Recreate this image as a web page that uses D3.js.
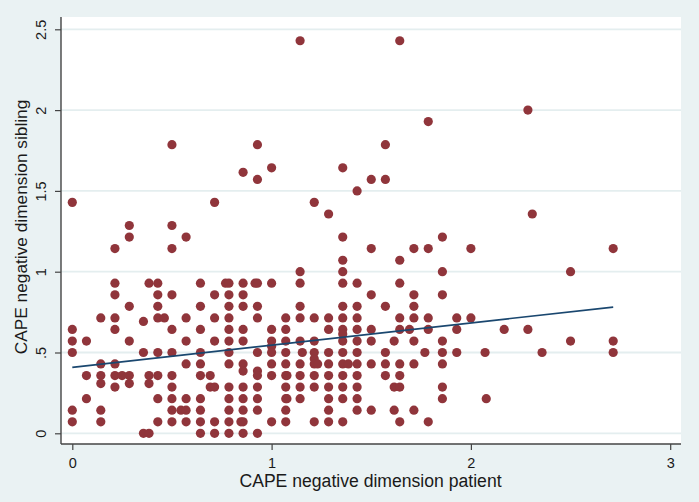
<!DOCTYPE html>
<html>
<head>
<meta charset="utf-8">
<script src="https://cdn.jsdelivr.net/npm/d3@7"></script>
<style>
  html, body { margin: 0; padding: 0; background: #EAF2F3; }
  svg { display: block; }
  text { font-family: "Liberation Sans", Arial, Helvetica, sans-serif; fill: #1a1a1a; }
</style>
</head>
<body>
<svg id="chart" width="699" height="502"></svg>
<script>
// ---- data ----
const patient = [
  0.214,0.286,0.214,0.214,0.385,0.429,0.429,0.286,0.429,0.143,0.214,0.429,0.462,0.357,0,0.214,0,0.071,0.286,0,0.357,0.429,0.143,0.214,0.071,0.143,0.214,0.25,0.286,0.385,0.429,0.143,0.214,0.286,0.385,0.071,0.429,0,0.143,0,0.143,0.429,0.357,0.385,
  0.5,0.571,0.643,0.769,0.786,0.857,0.917,0.929,1,0.5,0.714,0.786,0.857,0.643,0.786,0.857,0.929,0.571,0.714,0.786,0.929,0.5,0.643,0.786,0.857,1,0.571,0.714,0.786,0.857,1,1,1,0.5,0.643,0.786,0.929,0.571,0.643,0.786,0.857,0.857,0.929,0.929,1,1,0.5,0.643,0.692,0.5,0.692,0.714,0.786,0.857,0.929,0.5,0.571,0.643,0.786,0.857,0.929,0.5,0.545,0.571,0.643,0.786,0.857,0.929,0.5,0.571,0.643,0.714,0.786,0.846,0.857,1,0.643,0.714,0.786,0.857,0.929,
  1.357,1.5,1.357,1.143,1.143,1.357,1.357,1.429,1.5,1.571,1.143,1.357,1.429,1.071,1.143,1.214,1.286,1.357,1.429,1.071,1.286,1.357,1.357,1.357,1.429,1.5,1.071,1.143,1.214,1.429,1.5,1.071,1.154,1.214,1.214,1.286,1.357,1.429,1.571,1.071,1.143,1.214,1.231,1.286,1.357,1.385,1.429,1.5,1.571,1.071,1.077,1.143,1.214,1.286,1.357,1.429,1.571,1.071,1.143,1.214,1.286,1.357,1.429,1.071,1.077,1.143,1.286,1.357,1.429,1.071,1.286,1.429,1.5,1.071,1.214,1.286,1.357,
  1.714,1.786,2,1.857,1.643,1.857,1.643,1.714,1.857,1.714,1.643,1.714,1.786,1.929,2,1.643,1.692,1.786,1.929,1.615,1.714,1.857,1.769,1.857,1.929,2.071,1.643,1.714,1.857,1.643,1.615,1.643,1.857,1.857,2.077,1.615,1.714,1.643,1.786,
  2.714,2.5,2.167,2.286,2.5,2.714,2.357,2.714,
  0.5,0.929,0.857,0.929,1,0,0.714,0.286,0.5,
  1.143,1.643,1.786,1.571,1.357,1.5,1.571,1.429,1.214,1.286,
  2.286,2.308
];
const sibling = [
  1.143,1.214,0.929,0.857,0.929,0.929,0.857,0.786,0.786,0.714,0.714,0.714,0.714,0.692,0.643,0.643,0.571,0.571,0.571,0.5,0.5,0.5,0.429,0.429,0.357,0.357,0.357,0.357,0.357,0.357,0.357,0.308,0.286,0.308,0.308,0.214,0.214,0.143,0.143,0.071,0.071,0.071,0,0,
  1.143,1.214,0.929,0.929,0.929,0.929,0.929,0.929,0.929,0.857,0.857,0.857,0.857,0.786,0.786,0.786,0.786,0.714,0.714,0.714,0.714,0.643,0.643,0.643,0.643,0.643,0.571,0.571,0.571,0.571,0.571,0.538,0.5,0.5,0.5,0.5,0.5,0.429,0.429,0.429,0.429,0.385,0.385,0.357,0.429,0.357,0.357,0.357,0.357,0.286,0.286,0.286,0.286,0.286,0.286,0.214,0.214,0.214,0.214,0.214,0.214,0.143,0.143,0.143,0.143,0.143,0.143,0.143,0.071,0.071,0.071,0.071,0.071,0.071,0.071,0.071,0,0,0,0,0,
  1.214,1.143,1.071,1,0.929,1,0.929,0.929,0.857,0.786,0.786,0.786,0.786,0.714,0.714,0.714,0.714,0.714,0.714,0.643,0.643,0.643,0.615,0.571,0.643,0.643,0.571,0.571,0.571,0.571,0.571,0.5,0.5,0.5,0.462,0.5,0.5,0.5,0.5,0.429,0.429,0.429,0.429,0.429,0.429,0.429,0.429,0.429,0.429,0.357,0.357,0.357,0.357,0.357,0.357,0.357,0.357,0.286,0.286,0.286,0.286,0.286,0.286,0.214,0.214,0.214,0.214,0.214,0.214,0.143,0.143,0.143,0.143,0.071,0.071,0.071,0.071,
  1.143,1.143,1.143,1.214,1.071,1,0.929,0.857,0.857,0.786,0.714,0.714,0.714,0.714,0.714,0.643,0.643,0.643,0.643,0.571,0.571,0.571,0.5,0.5,0.5,0.5,0.429,0.429,0.429,0.357,0.286,0.286,0.286,0.214,0.214,0.143,0.143,0.071,0.071,
  1.143,1,0.643,0.643,0.571,0.571,0.5,0.5,
  1.786,1.786,1.615,1.571,1.643,1.429,1.429,1.286,1.286,
  2.429,2.429,1.929,1.786,1.643,1.571,1.571,1.5,1.429,1.357,
  2,1.357
];
// fitted line end points
const fitX = [0, 2.714];
const fitY = [0.408, 0.781];

const xTicks = [0, 1, 2, 3];
const xTickLabels = ["0", "1", "2", "3"];
const yTicks = [0, 0.5, 1, 1.5, 2, 2.5];
const yTickLabels = ["0", ".5", "1", "1.5", "2", "2.5"];

const xTitle = "CAPE negative dimension patient";
const yTitle = "CAPE negative dimension sibling";

// ---- layout ----
const W = 699, H = 502;
const plot = { left: 61, right: 681, top: 17, bottom: 444 };

const svg = d3.select("#chart");
svg.append("rect").attr("width", W).attr("height", H).attr("fill", "#EAF2F3");
svg.append("rect")
  .attr("x", plot.left).attr("y", plot.top)
  .attr("width", plot.right - plot.left).attr("height", plot.bottom - plot.top)
  .attr("fill", "#ffffff");

const x = d3.scaleLinear().domain([0, 3]).range([72.3, 670.2]);
const y = d3.scaleLinear().domain([0, 2.5]).range([433.3, 29.3]);

// grid lines
svg.append("g").selectAll("line").data(yTicks).join("line")
  .attr("x1", plot.left).attr("x2", plot.right)
  .attr("y1", d => y(d)).attr("y2", d => y(d))
  .attr("stroke", "#E4EEEF").attr("stroke-width", 1.8);

// points
const pts = patient.map((p, i) => ({ x: p, y: sibling[i] }));
svg.append("g").selectAll("circle").data(pts).join("circle")
  .attr("cx", d => x(d.x)).attr("cy", d => y(d.y)).attr("r", 4.6)
  .attr("fill", "#90353B");

// fitted line
svg.append("path")
  .datum(fitX.map((v, i) => [v, fitY[i]]))
  .attr("d", d3.line().x(d => x(d[0])).y(d => y(d[1])))
  .attr("fill", "none").attr("stroke", "#1A476F").attr("stroke-width", 1.6);

// y axis
const yAxis = svg.append("g").attr("transform", `translate(${plot.left},0)`)
  .call(d3.axisLeft(y).tickValues(yTicks).tickFormat((d, i) => yTickLabels[i]).tickSize(6));
yAxis.select(".domain").remove();
yAxis.selectAll(".tick line").attr("stroke", "#444").attr("stroke-width", 1.2);
yAxis.selectAll(".tick text")
  .attr("x", 0).attr("y", 0).attr("dy", 0)
  .attr("transform", "translate(-15.3,0) rotate(-90)")
  .attr("text-anchor", "middle")
  .style("font-size", "14.5px").style("font-family", "'Liberation Sans', Arial, sans-serif").attr("fill", "#1a1a1a");
svg.append("line").attr("x1", plot.left).attr("x2", plot.left)
  .attr("y1", plot.top).attr("y2", plot.bottom)
  .attr("stroke", "#444").attr("stroke-width", 1.4);

// x axis
const xAxis = svg.append("g").attr("transform", `translate(0,${plot.bottom})`)
  .call(d3.axisBottom(x).tickValues(xTicks).tickFormat((d, i) => xTickLabels[i]).tickSize(6));
xAxis.select(".domain").remove();
xAxis.selectAll(".tick line").attr("stroke", "#444").attr("stroke-width", 1.2);
xAxis.selectAll(".tick text")
  .attr("y", 23.5).attr("dy", 0)
  .style("font-size", "14.5px").style("font-family", "'Liberation Sans', Arial, sans-serif").attr("fill", "#1a1a1a");
svg.append("line").attr("x1", plot.left).attr("x2", plot.right)
  .attr("y1", plot.bottom).attr("y2", plot.bottom)
  .attr("stroke", "#444").attr("stroke-width", 1.4);

// titles
svg.append("text").attr("x", 370.5).attr("y", 486.5)
  .attr("text-anchor", "middle").style("font-size", "17.6px").text(xTitle);
svg.append("text").attr("transform", "translate(26.5,227) rotate(-90)")
  .attr("text-anchor", "middle").style("font-size", "17.3px").text(yTitle);
</script>
</body>
</html>
